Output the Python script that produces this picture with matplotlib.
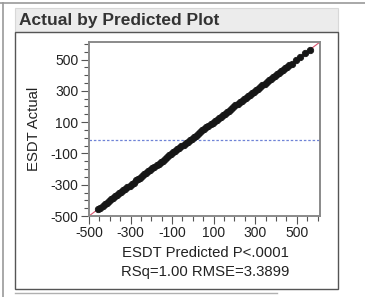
import matplotlib
matplotlib.use("Agg")
import matplotlib.pyplot as plt
from matplotlib.patches import Rectangle
from matplotlib.lines import Line2D
from matplotlib.ticker import MultipleLocator, FixedLocator

plt.rcParams['font.family'] = ['Liberation Sans', 'DejaVu Sans']
plt.rcParams['axes.unicode_minus'] = False

# ESDT predicted vs actual values
predicted = [-455, -445, -435, -425, -415, -405, -395, -385, -375, -365,
             -355, -345, -335, -325, -315, -305, -295, -285, -275, -265,
             -255, -245, -235, -225, -215, -205, -195, -185, -175, -165,
             -155, -145, -135, -125, -115, -105, -95, -85, -75, -65,
             -55, -45, -35, -25, -15, -5, 5, 15, 25, 35,
             45, 55, 65, 75, 85, 95, 105, 115, 125, 135,
             145, 155, 165, 175, 185, 195, 205, 215, 225, 235,
             245, 255, 265, 275, 285, 295, 305, 315, 325, 335,
             345, 355, 365, 375, 385, 395, 405, 415, 425, 435,
             445, 455, 465, 475, 495, 518, 538, 562]
actual = [-454, -446, -433, -426, -414, -406, -393, -386, -374, -366,
          -353, -346, -334, -326, -313, -306, -294, -286, -273, -266,
          -254, -246, -233, -226, -214, -206, -193, -186, -174, -166,
          -153, -146, -134, -126, -113, -106, -94, -86, -73, -66,
          -54, -46, -33, -26, -14, -6, 7, 14, 26, 34,
          47, 54, 66, 74, 87, 94, 106, 114, 127, 134,
          146, 154, 167, 174, 186, 194, 207, 214, 226, 234,
          247, 254, 266, 274, 287, 294, 306, 314, 327, 334,
          346, 354, 367, 374, 386, 394, 407, 414, 426, 434,
          447, 454, 466, 474, 497, 516, 540, 560]
mean_actual = -12
lims = [-500, 612]
tick_vals = [-500, -300, -100, 100, 300, 500]

W, H = 365, 297
fig = plt.figure(figsize=(W / 100, H / 100), dpi=100)

def px(x, y):
    return x / W, 1 - y / H

# outer frame lines
fig.add_artist(Line2D([0, 1], [px(0, 3)[1]] * 2, color='#9a9a9a', lw=1.2))
fig.add_artist(Line2D([px(3, 0)[0]] * 2, [0, px(0, 3)[1]], color='#9a9a9a', lw=1.2))
fig.add_artist(Line2D([px(15, 0)[0], px(277, 0)[0]], [px(0, 293)[1]] * 2, color='#b0b0b0', lw=1))

# title band and panel box
x0, y0 = px(15, 32)
fig.add_artist(Rectangle((x0, y0), (338 - 15) / W, 24 / H, facecolor='#ececec',
                         edgecolor='#d8d8d8', lw=0.8))
x1, y1 = px(15, 289)
fig.add_artist(Rectangle((x1, y1), (338 - 15) / W, (289 - 32) / H, facecolor='none',
                         edgecolor='#555555', lw=1.0))
fig.text(px(19, 0)[0], px(0, 20)[1], "Actual by Predicted Plot", fontsize=12.5,
         fontweight='bold', color='#333333', va='center', ha='left')

ax = fig.add_axes([89 / W, 1 - 216 / H, (320 - 89) / W, (216 - 42) / H])
ax.plot(lims, lims, color='#d9536e', lw=0.8, zorder=2)
ax.axhline(mean_actual, color='#6f83d6', lw=0.9, ls=(0, (2, 1.5)), zorder=1)
ax.plot(predicted, actual, 'o', color='#161616', ms=4.6, mec='#161616', mew=0.6, zorder=3)
ax.set_xlim(lims)
ax.set_ylim(lims)

for axis in (ax.xaxis, ax.yaxis):
    axis.set_major_locator(FixedLocator(tick_vals))
    axis.set_minor_locator(MultipleLocator(50))
ax.tick_params(which='major', length=6, width=0.8, color='#555555', labelsize=10,
               pad=1.5, labelcolor='#222222')
ax.tick_params(which='minor', length=3.5, width=0.8, color='#555555')
for s in ax.spines.values():
    s.set_color('#8a8a8a')
    s.set_linewidth(1.4)

ax.set_ylabel("ESDT Actual", fontsize=10.7, color='#222222', labelpad=7)
fig.text(px(205, 0)[0], px(0, 253)[1], "ESDT Predicted P<.0001", fontsize=10.7,
         color='#222222', ha='center', va='center')
fig.text(px(205, 0)[0], px(0, 272)[1], "RSq=1.00 RMSE=3.3899", fontsize=10.7,
         color='#222222', ha='center', va='center')

fig.savefig("out.png", dpi=100)
